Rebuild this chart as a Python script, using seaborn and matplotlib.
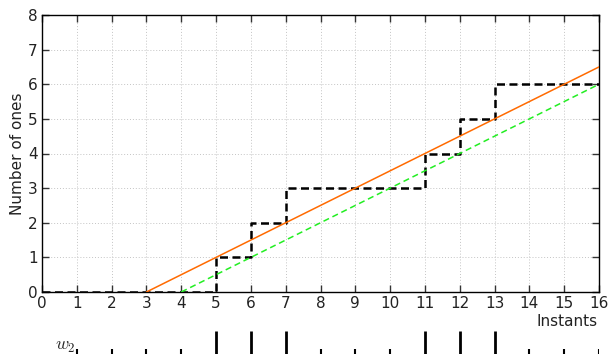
import matplotlib
matplotlib.use("Agg")
import matplotlib.pyplot as plt
import seaborn as sns
import numpy as np
import pandas as pd

sns.set_theme(style="white")
plt.rcParams['font.family'] = ['DejaVu Sans']
plt.rcParams['mathtext.fontset'] = 'cm'

# Data
instants = [0, 5, 6, 7, 11, 12, 13, 16]
ones_count = [0, 1, 2, 3, 4, 5, 6, 6]
orange_x = [3, 16]
orange_y = [0, 6.5]
green_x = [4, 16]
green_y = [0, 6]
w2_instants = list(range(1, 17))
w2_bits = [0, 0, 0, 0, 1, 1, 1, 0, 0, 0, 1, 1, 1, 0, 0, 0]

fig = plt.figure(figsize=(6.09, 3.54), dpi=100)
W, H = 609, 354
ax = fig.add_axes([42 / W, 1 - 292 / H, (599 - 42) / W, (292 - 15) / H])

df_step = pd.DataFrame({"t": instants, "n": ones_count})
sns.lineplot(data=df_step, x="t", y="n", ax=ax, drawstyle="steps-post",
             color="black", linestyle=(0, (3.2, 1.8)), linewidth=1.8, zorder=3)
sns.lineplot(x=orange_x, y=orange_y, ax=ax, color="#ff6a00", linewidth=1.1, zorder=4)
sns.lineplot(x=green_x, y=green_y, ax=ax, color="#22ee22", linestyle=(0, (4, 2.5)),
             linewidth=1.1, zorder=4)

ax.set_xlim(0, 16)
ax.set_ylim(0, 8)
ax.set_xticks(range(0, 17))
ax.set_yticks(range(0, 9))
ax.grid(True, color="#c4c4c4", linestyle=(0, (1, 2)), linewidth=0.7)
ax.tick_params(direction="in", length=5, width=1, color="#333333",
               top=True, right=True, bottom=True, left=True,
               labelsize=11, pad=3, labelcolor="#222222")
for s in ax.spines.values():
    s.set_color("black")
    s.set_linewidth(1.0)
ax.set_xlabel("")
ax.set_ylabel("Number of ones", fontsize=11, labelpad=2, color="#222222")
fig.text(598 / W, 1 - 322 / H, "Instants", ha="right", va="center", fontsize=11,
         color="#222222")

# w2 row
ax2 = fig.add_axes([42 / W, 0, (599 - 42) / W, 23 / H])
heights = [1.0 if b else 0.22 for b in w2_bits]
ax2.vlines(w2_instants, 0, heights, colors="black",
           linewidths=[2.0 if b else 1.5 for b in w2_bits])
ax2.set_xlim(0, 16)
ax2.set_ylim(0, 1)
ax2.axis("off")
fig.text(65 / W, 1 - 346 / H, r"$w_2$", ha="center", va="center", fontsize=13)

fig.savefig("out.png", dpi=100)
